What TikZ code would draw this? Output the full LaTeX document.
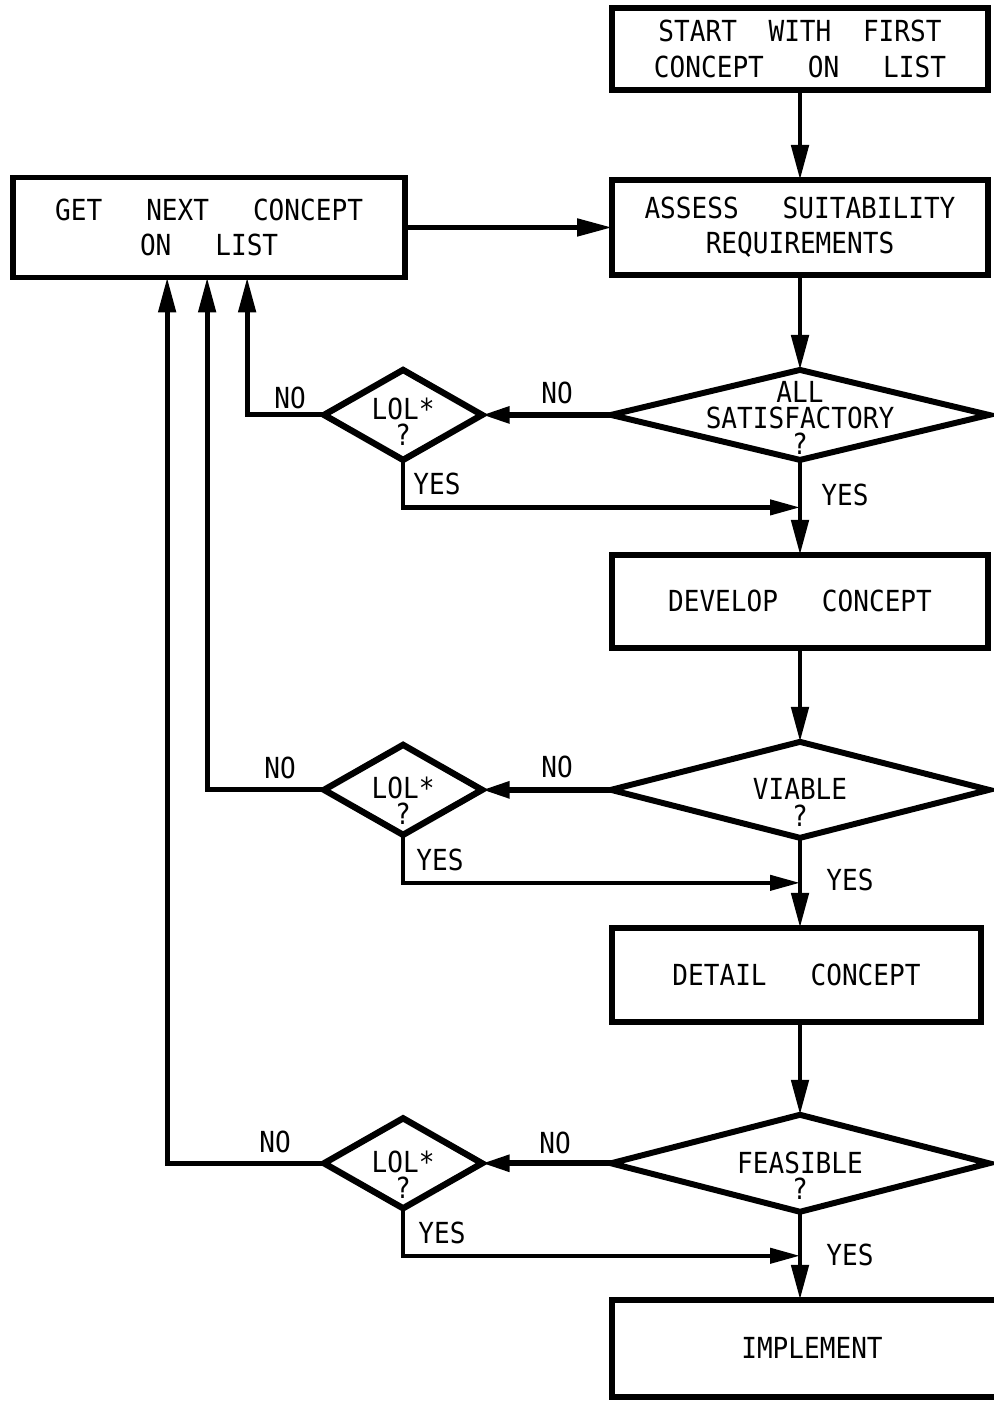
\documentclass[tikz,border=0pt]{standalone}
\usepackage{fontspec}
\newfontfamily\leroy[FakeStretch=0.9]{DejaVu Sans Mono}
\usetikzlibrary{arrows.meta,calc,positioning,shapes.geometric}
\newcommand{\chartfont}{\leroy\fontsize{16.5}{20}\selectfont\spaceskip=25pt\relax}
\newcommand{\testfont}{\leroy\fontsize{16.5}{15}\selectfont\relax}
\tikzset{
  flow/.style={-{Triangle[length=7mm,width=3.4mm]}, line width=2.8pt},
  no flow/.style={-{Triangle[length=5.5mm,width=3.2mm]}, line width=3.2pt},
  yes flow/.style={-{Triangle[length=6mm,width=3mm]}, line width=2.4pt},
  proc box/.style={draw, line width=3.2pt, outer sep=0pt, align=center,
    minimum width=7.52cm, font=\chartfont},
  test/.style={diamond, draw, line width=3.4pt, outer sep=0pt,
    inner sep=0pt, minimum width=7.56cm},
  small test/.style={diamond, draw, line width=3.6pt, outer sep=0pt,
    inner sep=0pt, minimum width=3.16cm, minimum height=1.8cm},
  test text/.style={align=center, inner sep=0pt, font=\testfont},
  answer/.style={inner sep=0pt, font=\chartfont}
}
\begin{document}
\begin{tikzpicture}[x=0.02cm, y=-0.02cm]
  \useasboundingbox (0,0) rectangle (993,1405);
  % main column
  \node[proc box, minimum height=1.64cm] (start) at (800,49)
    {{\spaceskip=18pt START WITH FIRST}\\CONCEPT ON LIST};
  \node[proc box, minimum height=1.9cm, below=1.8cm of start] (assess)
    {ASSESS SUITABILITY\\REQUIREMENTS};
  \node[test, minimum height=1.8cm, below=1.9cm of assess] (d1) {};
  \node[proc box, minimum height=1.86cm, below=1.9cm of d1] (develop)
    {DEVELOP CONCEPT};
  \node[test, minimum height=1.92cm, below=1.88cm of develop] (d2) {};
  \node[proc box, minimum height=1.88cm, minimum width=7.38cm,
    below=1.8cm of d2, xshift=-0.07cm] (detail) {DETAIL CONCEPT};
  \node[test, minimum height=1.94cm, below=1.86cm of detail, xshift=0.07cm] (d3) {};
  \node[proc box, minimum height=1.94cm, minimum width=8cm,
    below=1.76cm of d3, xshift=0.24cm] (implement) {IMPLEMENT};
  \node[test text] (d1txt) at ([yshift=-0.06cm]d1.center) {ALL\\SATISFACTORY\\?};
  \node[test text] (d2txt) at ([yshift=-0.25cm]d2.center) {VIABLE\\?};
  \node[test text] (d3txt) at ([yshift=-0.25cm]d3.center) {FEASIBLE\\?};
  % side column
  \node[proc box, minimum width=7.84cm, minimum height=2cm,
    left=4.14cm of assess] (getnext) {GET NEXT CONCEPT\\ON LIST};
  \node[small test, left=2.58cm of d1] (l1) {};
  \node[small test, left=2.58cm of d2] (l2) {};
  \node[small test, left=2.58cm of d3] (l3) {};
  \node[test text] (l1txt) at ([yshift=-0.13cm]l1.center) {LOL*\\?};
  \node[test text] (l2txt) at ([yshift=-0.22cm]l2.center) {LOL*\\?};
  \node[test text] (l3txt) at ([yshift=-0.23cm]l3.center) {LOL*\\?};
  \coordinate (j1) at ($(d1.south)!0.5!(develop.north)$);
  \coordinate (j2) at ($(d2.south)!0.5!(detail.north -| d2.south)$);
  \coordinate (j3) at ($(d3.south)!0.5!(implement.north -| d3.south)$);
  % connectors
  \draw[flow] (start) -- (assess);
  \draw[flow] (assess) -- (d1);
  \draw[flow] (d1) -- (develop.north -| d1.south);
  \draw[flow] (develop.south -| d1.south) -- (d2);
  \draw[flow] (d2) -- (detail.north -| d2.south);
  \draw[flow] (detail.south -| d2.south) -- (d3);
  \draw[flow] (d3) -- (implement.north -| d3.south);
  \draw[flow] (getnext) -- (assess);
  \draw[no flow] (d1.west) -- (l1.east);
  \draw[no flow] (d2.west) -- (l2.east);
  \draw[no flow] (d3.west) -- (l3.east);
  \draw[flow] (l1.west) -| ([xshift=7.6mm]getnext.south);
  \draw[flow] (l2.west) -| ([xshift=-0.4mm]getnext.south);
  \draw[flow] (l3.west) -| ([xshift=-8.4mm]getnext.south);
  \draw[yes flow] (l1.south) |- (j1);
  \draw[yes flow] (l2.south) |- (j2);
  \draw[yes flow] (l3.south) |- (j3);
  % answers
  \node[answer] (no1) at (557,393) {NO};
  \node[answer] (no2) at (557,767) {NO};
  \node[answer] (no3) at (555,1143) {NO};
  \node[answer] (no4) at (290,398) {NO};
  \node[answer] (no5) at (280,768) {NO};
  \node[answer] (no6) at (275,1142) {NO};
  \node[answer] (yes1) at (437,484) {YES};
  \node[answer] (yes2) at (440,860) {YES};
  \node[answer] (yes3) at (442,1233) {YES};
  \node[answer] (yes4) at (845,495) {YES};
  \node[answer] (yes5) at (850,880) {YES};
  \node[answer] (yes6) at (850,1255) {YES};
\end{tikzpicture}
\end{document}
